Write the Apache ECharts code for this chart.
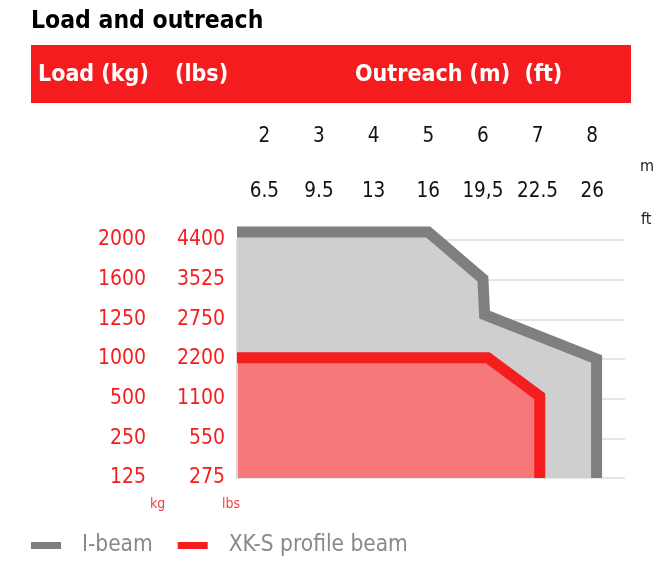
<!DOCTYPE html>
<html>
<head>
<meta charset="utf-8">
<script src="https://cdn.jsdelivr.net/npm/echarts@6/dist/echarts.min.js"></script>
<style>
html,body{margin:0;padding:0;background:#fff;}
#chart{width:668px;height:562px;}
</style>
</head>
<body>
<div id="chart"></div>
<script>
// ---- data ----
const outreachM = [2, 3, 4, 5, 6, 7, 8];
const outreachFt = ['6.5', '9.5', '13', '16', '19,5', '22.5', '26'];
const loadKg = ['125', '250', '500', '1000', '1250', '1600', '2000'];
const loadLbs = ['275', '550', '1100', '2200', '2750', '3525', '4400'];
// points: [outreach (m), load level index (0 = 125 kg ... 6 = 2000 kg)]
const iBeam = [[1.5, 6.2], [5, 6.2], [6, 5.02], [6.03, 4.12], [8.08, 3.0], [8.08, 0]];
const xksBeam = [[1.5, 3.03], [6.09, 3.03], [7.04, 2.06], [7.04, 0]];
const seriesNames = ['I-beam', 'XK-S profile beam'];

const FONT = '"DejaVu Sans Condensed", "DejaVu Sans", "Liberation Sans", sans-serif';
const RED = '#f51e1f';

function isInt(v) { return Math.abs(v - Math.round(v)) < 1e-6; }
function mLabel(v) { if (!isInt(v)) return ''; const i = outreachM.indexOf(Math.round(v)); return i >= 0 ? String(outreachM[i]) : ''; }
function ftLabel(v) { if (!isInt(v)) return ''; const i = outreachM.indexOf(Math.round(v)); return i >= 0 ? outreachFt[i] : ''; }
function lvl(arr) { return function (v) { return isInt(v) && arr[Math.round(v)] !== undefined ? arr[Math.round(v)] : ''; }; }

const chart = echarts.init(document.getElementById('chart'), null, { renderer: 'canvas' });

const xBase = {
  type: 'value', position: 'top', min: 1.5, max: 8.6, interval: 0.5,
  axisLine: { show: false }, axisTick: { show: false }, splitLine: { show: false }
};
const yBase = {
  type: 'value', position: 'left', min: 0, max: 6, interval: 1, z: 3,
  axisTick: { show: false }
};

chart.setOption({
  animation: false,
  textStyle: { fontFamily: FONT },
  title: {
    text: 'Load and outreach', left: 26, top: 4,
    textStyle: { fontFamily: FONT, fontWeight: 'bold', fontSize: 24.5, color: '#000' }
  },
  grid: { left: 237, right: 43, top: 240, bottom: 84 },
  xAxis: [
    Object.assign({}, xBase, {
      offset: 85,
      axisLabel: { formatter: mLabel, margin: 8, fontSize: 20.5, color: '#111', fontFamily: FONT }
    }),
    Object.assign({}, xBase, {
      offset: 30,
      axisLabel: { formatter: ftLabel, margin: 8, fontSize: 20.5, color: '#111', fontFamily: FONT }
    })
  ],
  yAxis: [
    Object.assign({}, yBase, {
      axisLine: { show: true, lineStyle: { color: '#dadada', width: 2 } },
      splitLine: { show: true, lineStyle: { color: 'rgba(100,100,100,0.22)', width: 1.5 } },
      axisLabel: { formatter: lvl(loadLbs), margin: 12, fontSize: 21, color: RED, fontFamily: FONT }
    }),
    Object.assign({}, yBase, {
      offset: 79,
      axisLine: { show: false },
      splitLine: { show: false },
      axisLabel: { formatter: lvl(loadKg), margin: 12, fontSize: 21, color: RED, fontFamily: FONT }
    })
  ],
  legend: {
    left: 26, top: 529, icon: 'rect', itemWidth: 30, itemHeight: 7, itemGap: 25,
    textStyle: { fontSize: 22.5, color: '#888', fontFamily: FONT, padding: [0, 0, 0, 16] },
    data: seriesNames
  },
  series: [
    {
      name: seriesNames[0], type: 'line', data: iBeam, symbol: 'none', clip: false,
      color: '#7f7f7f',
      lineStyle: { color: '#7f7f7f', width: 11, join: 'miter', cap: 'butt' },
      areaStyle: { color: '#cfcfcf', opacity: 1 }
    },
    {
      name: seriesNames[1], type: 'line', data: xksBeam, symbol: 'none', clip: false,
      color: RED,
      lineStyle: { color: RED, width: 11, join: 'miter', cap: 'butt' },
      areaStyle: { color: '#f67878', opacity: 1 }
    }
  ],
  graphic: [
    { type: 'rect', left: 31, top: 45, shape: { width: 600, height: 58 }, style: { fill: '#f51c1f' } },
    { type: 'text', left: 38, top: 64, style: { text: 'Load (kg)', fill: '#fff', font: 'bold 23px ' + FONT } },
    { type: 'text', left: 175, top: 64, style: { text: '(lbs)', fill: '#fff', font: 'bold 23px ' + FONT } },
    { type: 'text', left: 355, top: 64, style: { text: 'Outreach (m)  (ft)', fill: '#fff', font: 'bold 23px ' + FONT } },
    { type: 'text', left: 640, top: 159, style: { text: 'm', fill: '#222', font: '16px ' + FONT } },
    { type: 'text', left: 641, top: 212, style: { text: 'ft', fill: '#222', font: '16px ' + FONT } },
    { type: 'text', left: 150, top: 497, style: { text: 'kg', fill: '#f04040', font: '14px ' + FONT } },
    { type: 'text', left: 222, top: 497, style: { text: 'lbs', fill: '#f04040', font: '14px ' + FONT } }
  ]
});
</script>
</body>
</html>
